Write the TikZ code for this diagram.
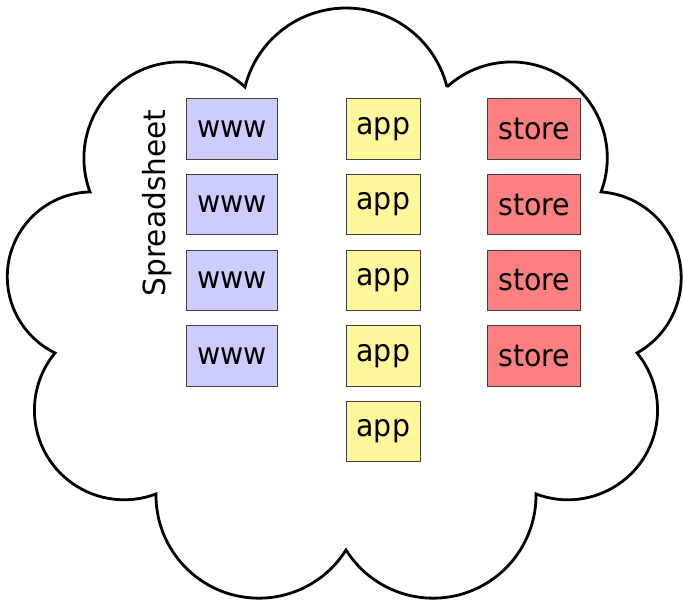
\documentclass[tikz,border=0pt]{standalone}
\usepackage{fontspec}
\setmainfont{DejaVu Sans}[FakeStretch=0.93]
\newfontfamily\sidefont{DejaVu Sans}[FakeStretch=0.97]
\begin{document}
\begin{tikzpicture}[x=1pt,y=1pt,
  cloudline/.style={draw=black, line width=2.8pt, line join=miter, fill=white},
  tile/.style={draw={rgb,255:red,64;green,64;blue,64}, line width=0.9pt,
    inner sep=0pt, minimum height=60.6pt, font=\fontsize{30.5}{36}\selectfont},
  wwwbox/.style={tile, fill={rgb,255:red,204;green,204;blue,255}, minimum width=91pt},
  appbox/.style={tile, fill={rgb,255:red,255;green,247;blue,153}, minimum width=74pt},
  storebox/.style={tile, fill={rgb,255:red,255;green,128;blue,128}, minimum width=93pt},
  sidelabel/.style={rotate=90, anchor=base, inner sep=0pt, font=\sidefont\fontsize{30.5}{36}\selectfont},
]
\useasboundingbox (0,0) rectangle (683,600);
\fill[white] (0,0) rectangle (683,600);

% cloud outline: nine circular bumps, counter-clockwise from the top
\path[cloudline] (447,513)
  arc[start angle=13.96,  end angle=166.04, radius=104.07]
  arc[start angle=47.7,   end angle=200.5,  radius=96.3]
  arc[start angle=91.39,  end angle=244.08, radius=84.78]
  arc[start angle=140.41, end angle=290.82, radius=89.7]
  arc[start angle=179.24, end angle=327.92, radius=102.86]
  arc[start angle=212.08, end angle=360.76, radius=102.86]
  arc[start angle=249.18, end angle=399.59, radius=89.7]
  arc[start angle=299.13, end angle=446.07, radius=86.06]
  arc[start angle=339.16, end angle=492.25, radius=95.85]
  -- cycle;

% web tier
\node[wwwbox] (w1) at (231.8,471)   {www};
\node[wwwbox] (w2) at (231.8,395.4) {www};
\node[wwwbox] (w3) at (231.8,319.7) {www};
\node[wwwbox] (w4) at (231.8,244.2) {www};

% application tier
\node[appbox] (a1) at (383.3,471)   {app};
\node[appbox] (a2) at (383.3,395.4) {app};
\node[appbox] (a3) at (383.3,319.7) {app};
\node[appbox] (a4) at (383.3,244.2) {app};
\node[appbox] (a5) at (383.3,168.5) {app};

% storage tier
\node[storebox] (s1) at (534.4,471)   {store};
\node[storebox] (s2) at (534.4,395.4) {store};
\node[storebox] (s3) at (534.4,319.7) {store};
\node[storebox] (s4) at (534.4,244.2) {store};

\node[sidelabel] (label) at (165.5,397) {Spreadsheet};
\end{tikzpicture}
\end{document}
